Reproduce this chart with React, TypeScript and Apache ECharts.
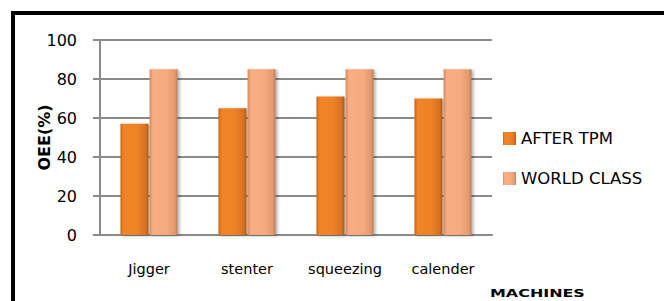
import React, { useEffect, useRef } from "react";
import * as echarts from "echarts";

const categories = ["Jigger", "stenter", "squeezing", "calender"];
const afterTpm = [57, 65, 71, 70];
const worldClass = [85, 85, 85, 85];
const yTicks = [0, 20, 40, 60, 80, 100];

export default function App() {
  const ref = useRef<HTMLDivElement>(null);
  useEffect(() => {
    if (!ref.current) return;
    const chart = echarts.init(ref.current, null, { renderer: "svg" });
    const grad = (stops: [number, string][]) =>
      new echarts.graphic.LinearGradient(0, 0, 1, 0, stops.map(([offset, color]) => ({ offset, color })));
    const font = "DejaVu Sans";
    chart.setOption({
      animation: false,
      backgroundColor: "#ffffff",
      grid: { left: 100, top: 40, right: 172, bottom: 66, containLabel: false },
      legend: {
        orient: "vertical",
        left: 503,
        top: 130,
        padding: 0,
        itemWidth: 13,
        itemHeight: 13,
        itemGap: 23,
        icon: "rect",
        textStyle: { fontFamily: font, fontSize: 16.5, color: "#000", lineHeight: 17 },
        data: ["AFTER TPM", "WORLD CLASS"],
      },
      xAxis: {
        type: "category",
        data: categories,
        axisLine: { lineStyle: { color: "#8a8a8a", width: 2 } },
        axisTick: { show: false },
        axisLabel: { fontFamily: font, fontSize: 14.5, color: "#000", margin: 26 },
      },
      yAxis: {
        type: "value",
        min: yTicks[0],
        max: yTicks[yTicks.length - 1],
        interval: 20,
        name: "OEE(%)",
        nameLocation: "middle",
        nameGap: 48,
        nameMoveOverlap: false,
        nameTextStyle: { fontFamily: font, fontSize: 16, fontWeight: "bold", color: "#000" },
        axisLine: { show: true, lineStyle: { color: "#8a8a8a", width: 2 } },
        axisTick: { show: true, length: 7, lineStyle: { color: "#8a8a8a", width: 2 } },
        splitLine: { lineStyle: { color: "#8a8a8a", width: 2 } },
        axisLabel: { fontFamily: font, fontSize: 16, color: "#000", margin: 23 },
      },
      series: [
        {
          name: "AFTER TPM",
          type: "bar",
          data: afterTpm,
          barWidth: 28,
          barGap: "4%",
          itemStyle: {
            color: grad([
              [0, "#c9661a"],
              [0.12, "#f08428"],
              [0.6, "#ee8226"],
              [0.9, "#d87020"],
              [1, "#a85a1e"],
            ]),
            shadowColor: "rgba(0,0,0,0.3)",
            shadowBlur: 3,
            shadowOffsetX: 2,
            shadowOffsetY: 1,
          },
        },
        {
          name: "WORLD CLASS",
          type: "bar",
          data: worldClass,
          barWidth: 28,
          itemStyle: {
            color: grad([
              [0, "#d48a60"],
              [0.12, "#f8ae84"],
              [0.6, "#f6aa80"],
              [0.9, "#e49a70"],
              [1, "#b87a58"],
            ]),
            shadowColor: "rgba(0,0,0,0.3)",
            shadowBlur: 3,
            shadowOffsetX: 2,
            shadowOffsetY: 1,
          },
        },
      ],
      graphic: [
        { type: "rect", shape: { x: 11, y: 11, width: 653, height: 4 }, style: { fill: "#000" } },
        { type: "rect", shape: { x: 11, y: 11, width: 4, height: 290 }, style: { fill: "#000" } },
        {
          type: "text",
          x: 490,
          y: 287,
          scaleX: 1.45,
          style: { text: "MACHINES", fontFamily: font, fontSize: 11, fontWeight: "bold", fill: "#000" },
        },
      ],
    });
    return () => chart.dispose();
  }, []);
  return (
    <div
      ref={ref}
      style={{ position: "fixed", left: 0, top: 0, width: 664, height: 301 }}
    />
  );
}
